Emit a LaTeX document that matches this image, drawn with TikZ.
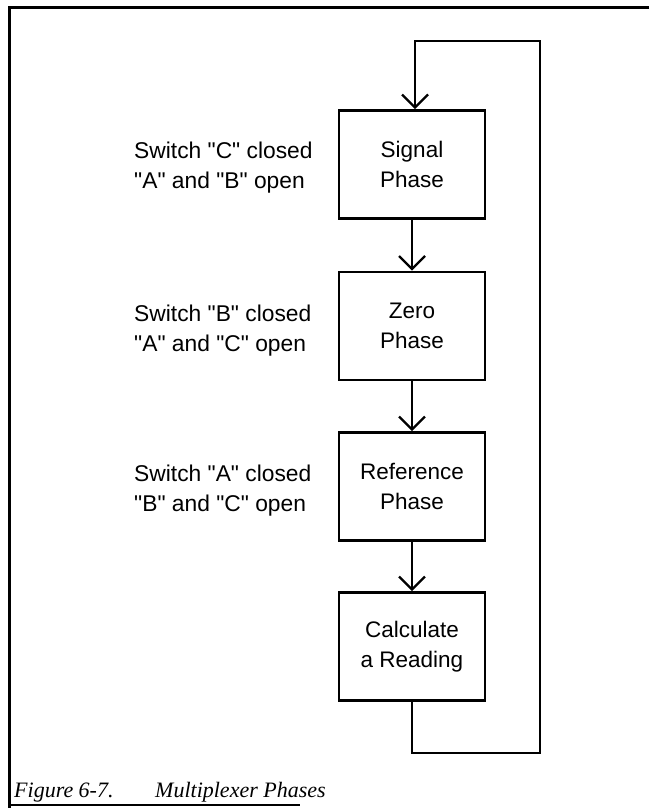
\documentclass[tikz,border=0pt]{standalone}
\usepackage{fontspec}
\setmainfont{Liberation Sans}[Ligatures=TeXOff]
\newfontfamily\capfont{Liberation Serif}
\usetikzlibrary{arrows.meta}
\begin{document}
\begin{tikzpicture}[x=1pt,y=-1pt,
  phasebox/.style={draw, line width=2.6pt, minimum width=146pt, minimum height=108pt,
    align=center, inner sep=0pt, font=\fontsize{22.5}{30}\selectfont},
  note/.style={anchor=west, align=left, inner sep=0pt, font=\fontsize{22.8}{30}\selectfont},
  flow/.style={line width=1.6pt, -{Straight Barb[length=13pt,width=26pt,line width=2.4pt]}},
  captxt/.style={anchor=base west, inner sep=0pt, font=\capfont\itshape\fontsize{22}{25}\selectfont},
]
\useasboundingbox (0,0) rectangle (649,808);
% frame
\draw[line width=3pt] (649,8) -- (9,8) -- (9,808);
\draw[line width=2.5pt] (9,805) -- (300,805);
% boxes
\node[phasebox] (sig)  at (412,164.5) {Signal\\Phase};
\node[phasebox] (zero) at (412,326) {Zero\\Phase};
\node[phasebox] (ref)  at (412,486.5) {Reference\\Phase};
\node[phasebox] (calc) at (412,646.5) {Calculate\\a Reading};
% connectors
\draw[flow] (sig.south) -- (zero.north);
\draw[flow] (zero.south) -- (ref.north);
\draw[flow] (ref.south) -- (calc.north);
\coordinate (lb) at (412,753);
\coordinate (rb) at (540,753);
\coordinate (rt) at (540,41);
\coordinate (lt) at (415,41);
\draw[flow, line width=2.2pt] (calc.south) -- (lb) -- (rb) -- (rt) -- (lt) -- (lt |- sig.north);
% notes
\node[note] (n1) at (134,168) {Switch "C" closed\\"A" and "B" open};
\node[note] (n2) at (134,331) {Switch "B" closed\\"A" and "C" open};
\node[note] (n3) at (134,491) {Switch "A" closed\\"B" and "C" open};
% caption
\node[captxt] (cap1) at (14,797) {Figure 6-7.};
\node[captxt] (cap2) at (155,797) {Multiplexer Phases};
\end{tikzpicture}
\end{document}
